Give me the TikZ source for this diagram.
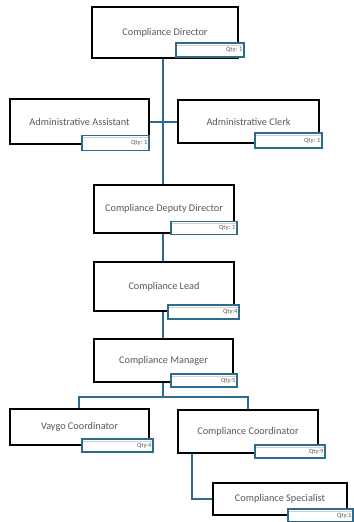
\documentclass[tikz,border=0pt]{standalone}
\usepackage{fontspec}
\setmainfont{Carlito}
\usetikzlibrary{backgrounds}
\definecolor{teal1}{HTML}{2F6B8C}
\definecolor{txt}{HTML}{595959}
\tikzset{
  x=1bp, y=-1bp,
  box/.style={draw=black, line width=1.4bp, fill=white, inner sep=0pt, text=txt, font=\fontsize{10.3}{12}\selectfont},
  qty/.style={draw=teal1, line width=1.4bp, fill=white, inner sep=0pt, text=txt, align=right, font=\fontsize{6.5}{7}\selectfont,
    path picture={\draw[black!18, line width=0.6bp] ([xshift=1bp,yshift=-2bp]path picture bounding box.north west) -- ([xshift=-1bp,yshift=-2bp]path picture bounding box.north east);}},
  conn/.style={draw=teal1, line width=2bp},
}
\newcommand{\qtxt}[2]{\makebox[#1][r]{#2\hspace{1.5bp}}}
\begin{document}
\begin{tikzpicture}
\useasboundingbox (0,0) rectangle (353,522);
% main boxes
\node[box, minimum width=146bp, minimum height=51bp] (dir) at (165,32.5) {Compliance Director};
\node[box, minimum width=139bp, minimum height=45bp] (asst) at (79.5,121.5) {Administrative Assistant};
\node[box, minimum width=141bp, minimum height=43bp] (clerk) at (248.5,121.5) {Administrative Clerk};
\node[box, minimum width=140bp, minimum height=48bp] (dep) at (164,209) {Compliance Deputy Director};
\node[box, minimum width=140bp, minimum height=49bp] (lead) at (164,286.5) {Compliance Lead};
\node[box, minimum width=139bp, minimum height=43bp] (mgr) at (163.5,360.5) {Compliance Manager};
\node[box, minimum width=139bp, minimum height=36bp] (vay) at (79.5,427) {Vaygo Coordinator};
\node[box, minimum width=140bp, minimum height=43bp] (coord) at (248,431.5) {Compliance Coordinator};
\node[box, minimum width=134bp, minimum height=32bp] (spec) at (280,499) {Compliance Specialist};
% qty boxes
\node[qty, minimum width=68bp, minimum height=14bp] (dirq) at (210,50) {\qtxt{68bp}{Qty: 1}};
\node[qty, minimum width=67bp, minimum height=15bp] (asstq) at (115.5,143) {\qtxt{67bp}{Qty: 1}};
\node[qty, minimum width=67bp, minimum height=15bp] (clerkq) at (288.5,140.5) {\qtxt{67bp}{Qty: 1}};
\node[qty, minimum width=66bp, minimum height=13bp] (depq) at (204,228) {\qtxt{66bp}{Qty: 1}};
\node[qty, minimum width=71bp, minimum height=14bp] (leadq) at (203.5,312) {\qtxt{71bp}{Qty:4}};
\node[qty, minimum width=66bp, minimum height=13bp] (mgrq) at (204,380.5) {\qtxt{66bp}{Qty:5}};
\node[qty, minimum width=71bp, minimum height=13bp] (vayq) at (117.5,445.5) {\qtxt{71bp}{Qty:4}};
\node[qty, minimum width=70bp, minimum height=13bp] (coordq) at (290,451.5) {\qtxt{70bp}{Qty:9}};
\node[qty, minimum width=65bp, minimum height=13bp] (specq) at (320.5,515.5) {\qtxt{65bp}{Qty:1}};
% connectors
\coordinate (branch) at (163,397);
\begin{scope}[on background layer]
\fill[white] (0,0) rectangle (353,522);
\draw[conn] (dir.south -| branch) -- (dep.north -| branch);
\draw[conn] ([yshift=-0.5bp]asst.east) -- ([yshift=-0.5bp]clerk.west);
\draw[conn] (dep.south -| branch) -- (lead.north -| branch);
\draw[conn] (lead.south -| branch) -- (mgr.north -| branch);
\draw[conn] (mgr.south -| branch) -- (branch);
\draw[conn] ([xshift=-0.5bp]vay.north) |- (branch) -| (coord.north);
\draw[conn] ([xshift=15bp]coord.south west) |- (spec.west);
\end{scope}
\end{tikzpicture}
\end{document}
